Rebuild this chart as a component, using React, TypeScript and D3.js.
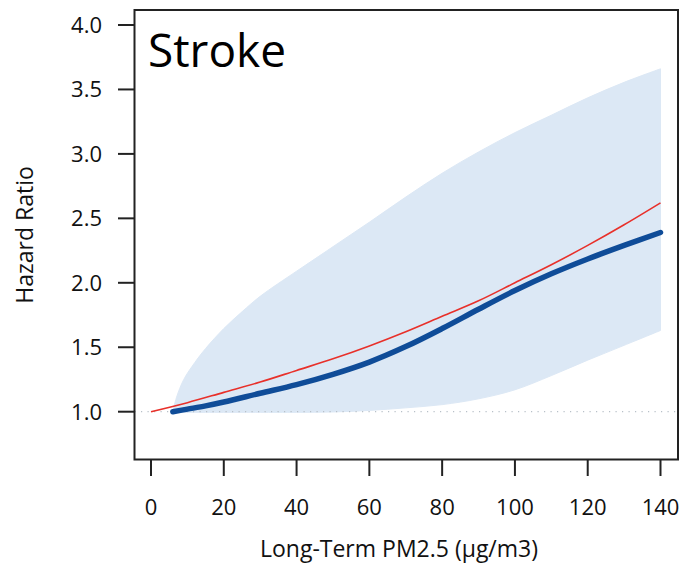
import React from "react";
import * as d3 from "d3";

// Axis ticks
const xTicks = [0, 20, 40, 60, 80, 100, 120, 140];
const yTicks = [1.0, 1.5, 2.0, 2.5, 3.0, 3.5, 4.0];

// Spline fit: hazard ratio vs long-term PM2.5
const fitX = [6, 10, 15, 20, 30, 40, 50, 60, 70, 80, 90, 100, 110, 120, 130, 140];
const fitHR = [1.0, 1.02, 1.045, 1.075, 1.143, 1.21, 1.29, 1.385, 1.505, 1.645, 1.795, 1.94, 2.07, 2.185, 2.29, 2.39];

// Log-linear fit
const linX = [0, 10, 20, 30, 40, 50, 60, 70, 80, 90, 100, 110, 120, 130, 140];
const linHR = [1.0, 1.07, 1.15, 1.23, 1.32, 1.41, 1.51, 1.62, 1.74, 1.86, 2.0, 2.14, 2.29, 2.45, 2.62];

// 95% confidence band of the spline fit
const bandX = [6, 7, 9, 12, 15, 20, 25, 30, 40, 50, 60, 70, 80, 90, 100, 110, 120, 130, 140];
const bandUpper = [1.0, 1.11, 1.25, 1.38, 1.49, 1.645, 1.775, 1.895, 2.09, 2.28, 2.47, 2.665, 2.85, 3.015, 3.165, 3.3, 3.435, 3.555, 3.66];
const bandLower = [1.0, 0.997, 0.995, 0.995, 0.995, 0.995, 0.995, 0.995, 0.995, 0.998, 1.01, 1.03, 1.055, 1.1, 1.17, 1.28, 1.4, 1.515, 1.63];

const W = 685;
const H = 566;
const box = { left: 134.5, top: 10, right: 678, bottom: 459.5 };
const FONT = "'Open Sans', 'Noto Sans', sans-serif";

export default function App() {
  const x = d3.scaleLinear().domain([0, 140]).range([151, 660.5]);
  const y = d3.scaleLinear().domain([1, 4]).range([411.7, 25]);

  const band = d3
    .area<number>()
    .x((d) => x(d))
    .y0((_, i) => y(bandLower[i]))
    .y1((_, i) => y(bandUpper[i]))
    .curve(d3.curveCatmullRom.alpha(0.5))(bandX) as string;

  const fitLine = d3
    .line<number>()
    .x((d) => x(d))
    .y((_, i) => y(fitHR[i]))
    .curve(d3.curveCatmullRom.alpha(0.5))(fitX) as string;

  const linLine = d3
    .line<number>()
    .x((d) => x(d))
    .y((_, i) => y(linHR[i]))
    .curve(d3.curveCatmullRom.alpha(0.5))(linX) as string;

  return (
    <svg
      width={W}
      height={H}
      style={{ position: "absolute", left: 0, top: 0, display: "block", background: "#fff" }}
      fontFamily={FONT}
    >
      {/* confidence band */}
      <path d={band} fill="#dce8f5" stroke="#dce8f5" strokeWidth={1} />
      {/* reference line at HR = 1 */}
      <line
        x1={box.left}
        x2={box.right}
        y1={y(1)}
        y2={y(1)}
        stroke="#b8c0c8"
        strokeWidth={1.2}
        strokeDasharray="1.2 5.3"
      />
      {/* log-linear fit */}
      <path d={linLine} fill="none" stroke="#e8302a" strokeWidth={1.6} />
      {/* spline fit */}
      <path d={fitLine} fill="none" stroke="#0f4c98" strokeWidth={5.5} strokeLinecap="round" />

      {/* frame */}
      <rect
        x={box.left}
        y={box.top}
        width={box.right - box.left}
        height={box.bottom - box.top}
        fill="none"
        stroke="#222"
        strokeWidth={2}
      />

      {/* y axis */}
      {yTicks.map((t) => (
        <g key={t}>
          <line x1={118} x2={box.left} y1={y(t)} y2={y(t)} stroke="#222" strokeWidth={2} />
          <text x={102} y={y(t)} dy="0.36em" textAnchor="end" fontSize={22} fill="#111">
            {t.toFixed(1)}
          </text>
        </g>
      ))}

      {/* x axis */}
      {xTicks.map((t) => (
        <g key={t}>
          <line x1={x(t)} x2={x(t)} y1={box.bottom} y2={476} stroke="#222" strokeWidth={2} />
          <text x={x(t)} y={515} textAnchor="middle" fontSize={22} fill="#111">
            {t}
          </text>
        </g>
      ))}

      <text x={399} y={557} textAnchor="middle" fontSize={23} fill="#111">
        Long-Term PM2.5 (µg/m3)
      </text>
      <text
        transform={`translate(33, 235) rotate(-90)`}
        textAnchor="middle"
        fontSize={23}
        fill="#111"
      >
        Hazard Ratio
      </text>

      <text x={148} y={67} fontSize={46} fill="#000">
        Stroke
      </text>
    </svg>
  );
}
